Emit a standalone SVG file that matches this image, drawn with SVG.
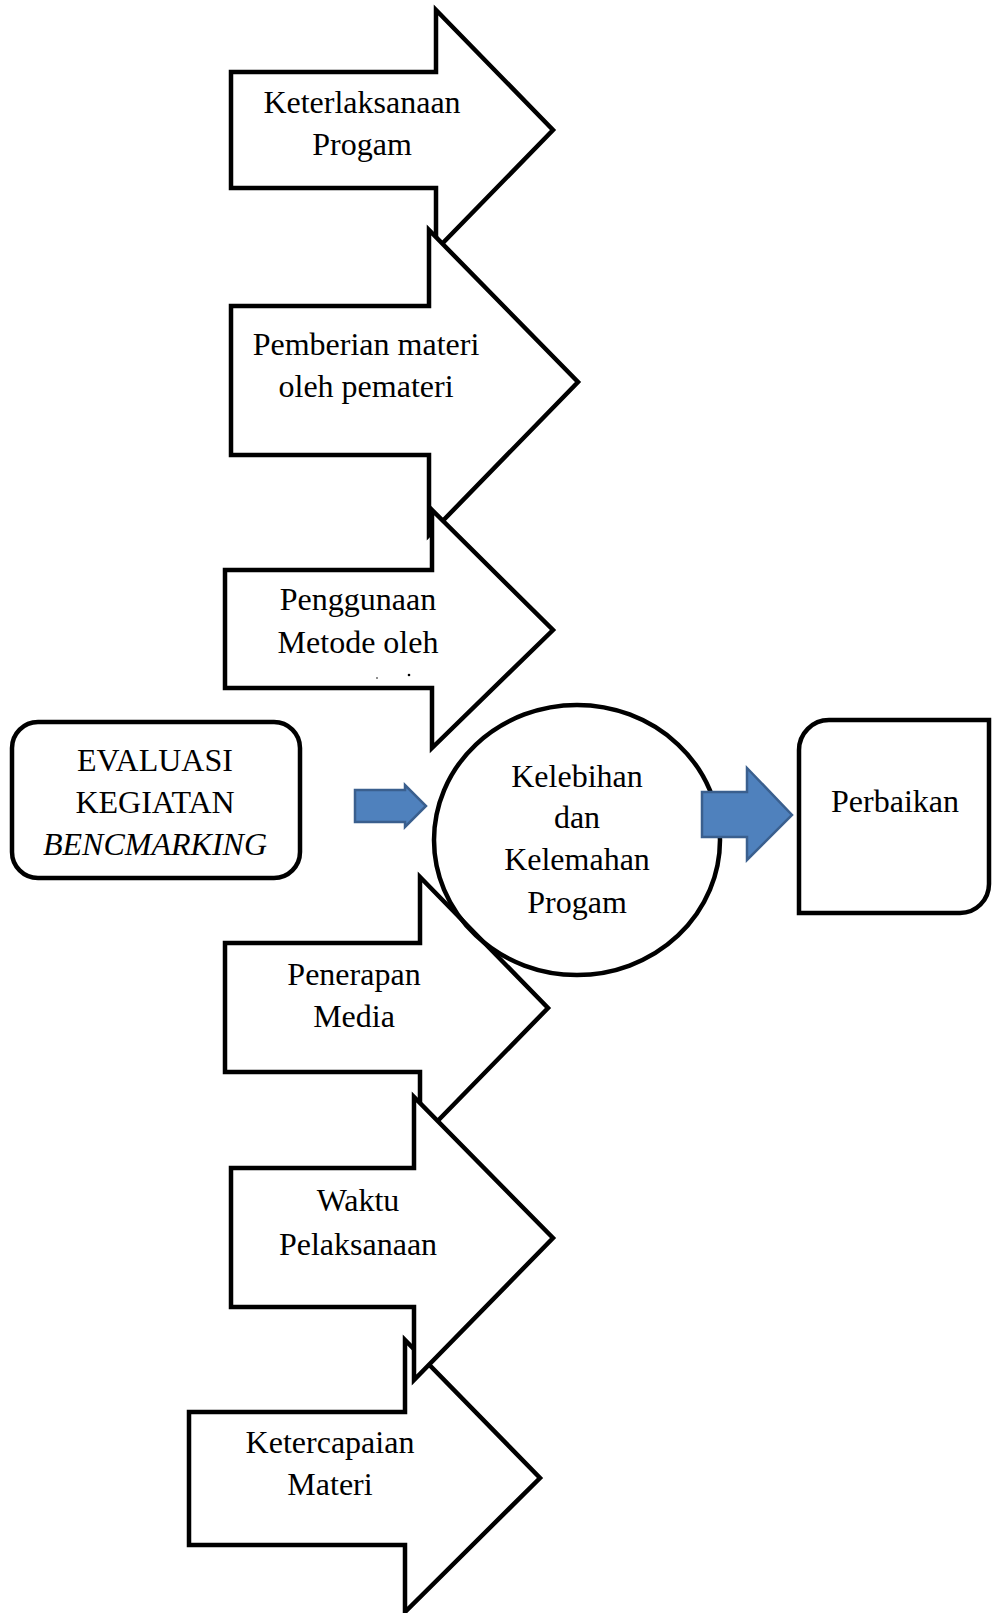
<svg xmlns="http://www.w3.org/2000/svg" width="992" height="1613" viewBox="0 0 992 1613">
<style>
.ar{fill:#fff;stroke:#000;stroke-width:4.5;stroke-linejoin:miter;stroke-miterlimit:10}
.bx{fill:#fff;stroke:#000;stroke-width:4.5}
.ci{fill:none;stroke:#000;stroke-width:4.5}
.bl{fill:#4F81BD;stroke:#3A5F8E;stroke-width:2.5;stroke-linejoin:miter}
.t{font-family:"Liberation Serif","Times New Roman",serif;font-size:32px;fill:#000;text-anchor:middle}
.i{font-style:italic}
</style>
<rect width="992" height="1613" fill="#fff"/>
<g id="arrow1">
<path class="ar" d="M231,72 L436,72 L436,10 L553,130 L436,250 L436,188 L231,188 Z"/>
<text class="t" x="362" y="113">Keterlaksanaan</text>
<text class="t" x="362" y="155">Progam</text>
</g>
<g id="arrow2">
<path class="ar" d="M231,306 L429,306 L429,230 L578,382 L429,535 L429,455 L231,455 Z"/>
<text class="t" x="366" y="355">Pemberian materi</text>
<text class="t" x="366" y="397">oleh pemateri</text>
</g>
<g id="arrow3">
<path class="ar" d="M225,570 L432,570 L432,510 L553,630 L432,748 L432,688 L225,688 Z"/>
<text class="t" x="358" y="610">Penggunaan</text>
<text class="t" x="358" y="653">Metode oleh</text>
<circle cx="377" cy="678" r="0.8" fill="#000"/>
<circle cx="409" cy="675" r="1.3" fill="#000"/>
</g>
<g id="arrow4">
<path class="ar" d="M225,943 L420,943 L420,877 L548,1008 L420,1139 L420,1072 L225,1072 Z"/>
<text class="t" x="354" y="985">Penerapan</text>
<text class="t" x="354" y="1027">Media</text>
</g>
<g id="arrow6">
<path class="ar" d="M189,1412 L405,1412 L405,1340 L540,1478 L405,1612 L405,1545 L189,1545 Z"/>
<text class="t" x="330" y="1453">Ketercapaian</text>
<text class="t" x="330" y="1495">Materi</text>
</g>
<g id="arrow5">
<path class="ar" d="M231,1168 L414,1168 L414,1097 L553,1238 L414,1380 L414,1307 L231,1307 Z"/>
<text class="t" x="358" y="1211">Waktu</text>
<text class="t" x="358" y="1255">Pelaksanaan</text>
</g>
<g id="evaluasi">
<rect class="bx" x="12" y="722" width="288" height="156" rx="26" ry="26"/>
<text class="t" x="155" y="771">EVALUASI</text>
<text class="t" x="155" y="813">KEGIATAN</text>
<text class="t i" x="155" y="855">BENCMARKING</text>
</g>
<g id="kelebihan">
<ellipse class="ci" cx="577" cy="840" rx="143" ry="135"/>
<text class="t" x="577" y="787">Kelebihan</text>
<text class="t" x="577" y="828">dan</text>
<text class="t" x="577" y="870">Kelemahan</text>
<text class="t" x="577" y="913">Progam</text>
</g>
<g id="perbaikan">
<path class="bx" d="M799,750 A30,30 0 0 1 829,720 L989,720 L989,884 A29,29 0 0 1 960,913 L799,913 Z"/>
<text class="t" x="895" y="812">Perbaikan</text>
</g>
<g id="connectors">
<path class="bl" d="M355,790 L405,790 L405,785 L426,806 L405,827 L405,822 L355,822 Z"/>
<path class="bl" d="M702,792 L747,792 L747,768 L792,815 L747,860 L747,837 L702,837 Z"/>
</g>
</svg>
